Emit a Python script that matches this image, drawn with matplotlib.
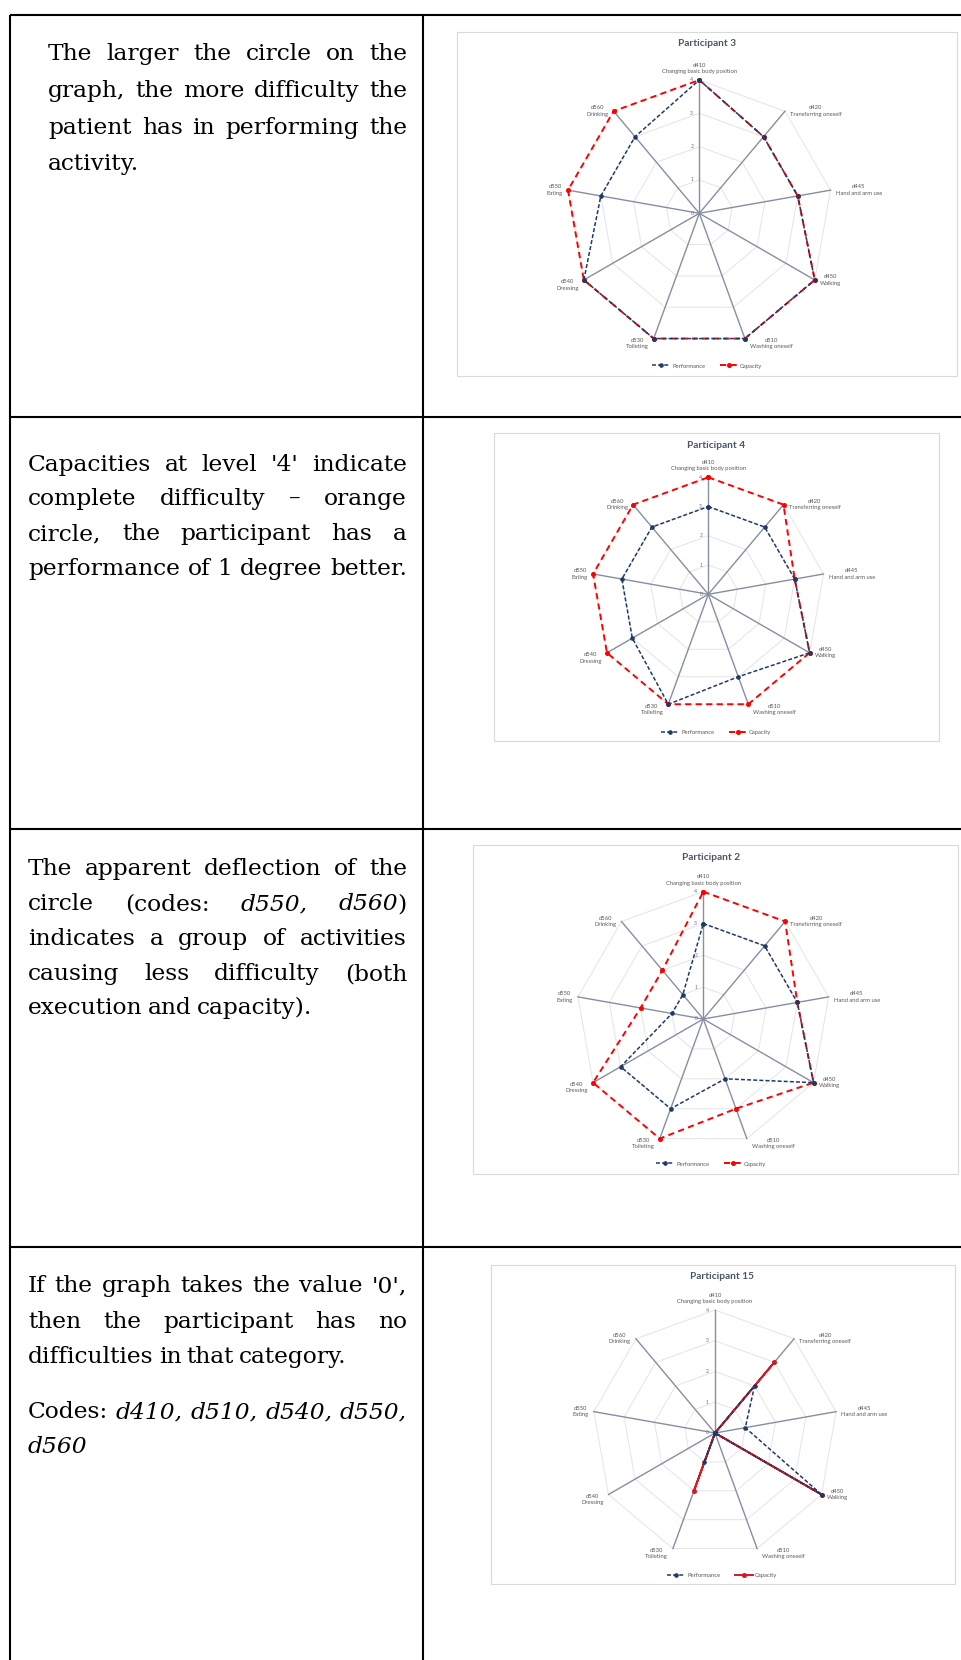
import numpy as np
import matplotlib
matplotlib.use('Agg')
import matplotlib.pyplot as plt
from matplotlib.patches import Rectangle
from matplotlib.transforms import offset_copy

W, H = 962, 1660  # размер картинки в пикселях (dpi = 100)

categories = ['d410\nChanging basic body position', 'd420\nTransferring oneself',
              'd445\nHand and arm use', 'd450\nWalking', 'd510\nWashing oneself',
              'd530\nToileting', 'd540\nDressing', 'd550\nEating', 'd560\nDrinking']
ticks = [0, 1, 2, 3, 4]

titles = ['Participant 3', 'Participant 4', 'Participant 2', 'Participant 15']
p3_perf = [4, 3, 3, 4, 4, 4, 4, 3, 3]
p3_cap = [4, 3, 3, 4, 4, 4, 4, 4, 4]
p4_perf = [3, 3, 3, 4, 3, 4, 3, 3, 3]
p4_cap = [4, 4, 3, 4, 4, 4, 4, 4, 4]
p2_perf = [3, 3, 3, 4, 2, 3, 3, 1, 1]
p2_cap = [4, 4, 3, 4, 3, 4, 4, 2, 2]
p15_perf = [0, 2, 1, 4, 0, 1, 0, 0, 0]
p15_cap = [0, 3, 0, 4, 0, 2, 0, 0, 0]

# текст левой колонки, _..._ = курсив
text1 = ['The larger the circle on the',
         'graph, the more difficulty the',
         'patient has in performing the',
         'activity.']
text2 = ['Capacities at level \'4\' indicate',
         'complete difficulty \u2013 orange',
         'circle, the participant has a',
         'performance of 1 degree better.']
text3 = ['The apparent deflection of the',
         'circle (codes: _d550,_ _d560_)',
         'indicates a group of activities',
         'causing less difficulty (both',
         'execution and capacity).']
text4 = ['If the graph takes the value \'0\',',
         'then the participant has no',
         'difficulties in that category.']
text5 = ['Codes: _d410,_ _d510,_ _d540,_ _d550,_',
         '_d560_']

fig = plt.figure(figsize=(W / 100, H / 100), dpi=100)
ax_bg = fig.add_axes([0, 0, 1, 1])
ax_bg.set_xlim(0, W)
ax_bg.set_ylim(H, 0)
ax_bg.axis('off')
renderer = fig.canvas.get_renderer()

# таблица
for y in [15, 417, 829, 1247]:
    ax_bg.plot([10, W], [y, y], color='black', lw=1.5, solid_capstyle='butt')
for x in [10.5, 423]:
    ax_bg.plot([x, x], [15, H], color='black', lw=1.5, solid_capstyle='butt')

FS = 16.8


def split_word(w):
    # "_d560_)" -> [('d560', True), (')', False)]
    parts = w.split('_')
    out = []
    for i, p in enumerate(parts):
        if p:
            out.append((p, i % 2 == 1))
    return out


def draw_par(lines, x0, x1, ys, last_natural=True):
    for i, (line, y) in enumerate(zip(lines, ys)):
        words = [split_word(w) for w in line.split(' ')]
        justify = not (last_natural and i == len(lines) - 1)
        arts, widths = [], []
        for w in words:
            segs, ws = [], []
            for s, it in w:
                t = ax_bg.text(0, y, s, fontsize=FS, family='DejaVu Serif',
                               style='italic' if it else 'normal',
                               ha='left', va='baseline', color='black')
                segs.append(t)
                ws.append(t.get_window_extent(renderer).width)
            arts.append(segs)
            widths.append(ws)
        total = sum(sum(ws) for ws in widths)
        if justify and len(arts) > 1:
            gap = (x1 - x0 - total) / (len(arts) - 1)
        else:
            gap = FS * 0.3
        x = x0
        for segs, ws in zip(arts, widths):
            for t, w in zip(segs, ws):
                t.set_x(x)
                x += w
            x += gap


draw_par(text1, 48, 407, [60, 97, 134, 170])
draw_par(text2, 28, 407, [471, 505, 540, 575], last_natural=False)
draw_par(text3, 28, 407, [875, 910, 945, 980, 1014])
draw_par(text4, 28, 407, [1292, 1328, 1363])
draw_par(text5, 28, 407, [1418, 1453])

# радарные диаграммы
charts = [
    dict(cx=699.3, cy=213.3, R=133.3, box=(457, 32, 957, 376), tx=707, ty=44, ly=366,
         perf=p3_perf, cap=p3_cap, cap_ls=(0, (3.2, 2.2))),
    dict(cx=708.3, cy=594.3, R=117.0, box=(494, 433, 939, 741), tx=716, ty=445, ly=732,
         perf=p4_perf, cap=p4_cap, cap_ls=(0, (3.2, 2.2))),
    dict(cx=703.3, cy=1019.0, R=127.3, box=(473, 845, 958, 1174), tx=711, ty=857, ly=1164,
         perf=p2_perf, cap=p2_cap, cap_ls=(0, (3.2, 2.2))),
    dict(cx=715.0, cy=1433.0, R=123.0, box=(491, 1265, 955, 1584), tx=722, ty=1276, ly=1575,
         perf=p15_perf, cap=p15_cap, cap_ls='-'),
]

n = len(categories)
theta = np.linspace(0, 2 * np.pi, n, endpoint=False)
closed = np.append(theta, theta[0])
lab_font = 'Lato'

for ch, title in zip(charts, titles):
    x0, y0, x1, y1 = ch['box']
    ax_bg.add_patch(Rectangle((x0, y0), x1 - x0, y1 - y0, fill=False, ec='#D9D9D9', lw=0.8))
    ax_bg.text(ch['tx'], ch['ty'], title, ha='center', va='center', fontsize=7.3,
               fontweight='bold', color='#4B5566', family=lab_font)

    cx, cy, R = ch['cx'], ch['cy'], ch['R']
    ax = fig.add_axes([(cx - R) / W, 1 - (cy + R) / H, 2 * R / W, 2 * R / H], projection='polar')
    ax.set_theta_zero_location('N')
    ax.set_theta_direction(-1)
    ax.set_ylim(0, 4)
    ax.grid(False)
    ax.spines['polar'].set_visible(False)
    ax.set_xticks([])
    ax.set_yticks([])
    ax.patch.set_alpha(0)

    for k in ticks[1:]:
        ax.plot(closed, [k] * (n + 1), color='#E4E4E4', lw=0.7, clip_on=False, zorder=1)
    for t in theta:
        ax.plot([t, t], [0, 4], color='#858FA2', lw=1.0, clip_on=False, zorder=2)
    for k in ticks:
        tr = offset_copy(ax.transData, fig=fig, x=-6, y=0, units='dots')
        ax.text(0, k, str(k), transform=tr, ha='right', va='center', fontsize=3.7,
                color='#707070', family=lab_font)

    for t, lab in zip(theta, categories):
        s, c = np.sin(t), np.cos(t)
        if abs(s) < 0.1:
            ha, va, dx, dy = 'center', 'bottom', 0, 6
        else:
            ha = 'left' if s > 0 else 'right'
            va = 'center'
            dx = 5 if s > 0 else -5
            dy = -5 if c < -0.5 else 0
        tr = offset_copy(ax.transData, fig=fig, x=dx, y=dy, units='dots')
        ax.text(t, 4, lab, transform=tr, ha=ha, va=va, fontsize=4.2, color='#595959',
                family=lab_font, linespacing=1.35, multialignment='center')

    ax.plot(closed, ch['perf'] + ch['perf'][:1], color='#1F3A68', lw=1.1,
            ls=(0, (2.6, 1.4)), marker='o', ms=2.3, clip_on=False, zorder=4,
            label='Performance')
    cap_color = '#FF0000' if ch['cap_ls'] != '-' else '#D41A24'
    ax.plot(closed, ch['cap'] + ch['cap'][:1], color=cap_color, lw=1.4,
            ls=ch['cap_ls'], marker='o', ms=2.6, clip_on=False, zorder=3,
            label='Capacity')
    leg = ax.legend(loc='center', bbox_to_anchor=(ch['tx'] / W, 1 - ch['ly'] / H),
                    bbox_transform=fig.transFigure, ncol=2, frameon=False,
                    handlelength=3.2, columnspacing=2.5, handletextpad=0.3,
                    prop={'family': lab_font, 'size': 4.2})
    for txt in leg.get_texts():
        txt.set_color('#595959')

fig.savefig('out.png', dpi=100)
